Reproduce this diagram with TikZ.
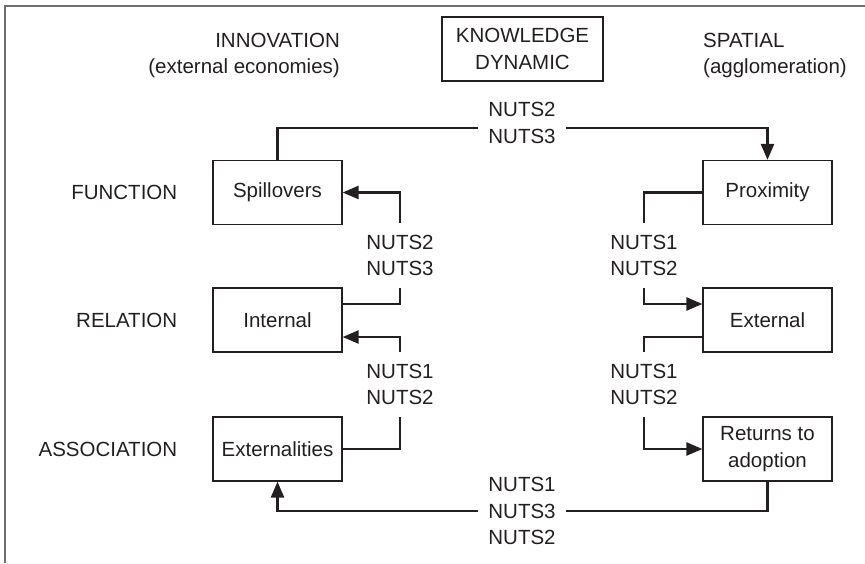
\documentclass[tikz,border=0pt]{standalone}
\usepackage{fontspec}
\setmainfont{Liberation Sans}
\usepackage{tikz}
\usetikzlibrary{positioning, arrows.meta}
\definecolor{ink}{HTML}{231F20}
\definecolor{framegray}{HTML}{6D6E70}

\begin{document}
\begin{tikzpicture}[x=1pt, y=-1pt,
    every node/.style={font=\fontsize{20.5}{26.5}\selectfont, text=ink},
    box/.style={draw=ink, line width=1.2pt, minimum width=129pt, minimum height=64pt, align=center, inner sep=0pt},
    nuts/.style={align=center, inner xsep=10pt, inner ysep=12pt},
    heading/.style={inner sep=0pt},
    link/.style={draw=ink, line width=2.4pt},
    arrow/.style={link, -{Triangle[length=16pt, width=13pt]}}]
    \useasboundingbox (0,0) rectangle (865,563);

    % Frame
    \draw[framegray, line width=1.8pt] (5,563) -- (5,6) -- (865,6);

    % Headings
    \node (knowledge) at (522.5, 49) [box, minimum width=161pt] {KNOWLEDGE\\DYNAMIC};
    \node (innovation) at (340, 32.7) [heading, anchor=north east, align=right] {INNOVATION\\(external economies)};
    \node (spatial) at (703, 32.7) [heading, anchor=north west, align=left] {SPATIAL\\(agglomeration)};

    % Innovation side
    \node (spill) at (277.5, 192.5) [box] {Spillovers};
    \node (internal) at (277.5, 320) [box] {Internal};
    \node (extern) at (277.5, 449) [box] {Externalities};
    \node (function) [heading, left=35pt of spill] {FUNCTION};
    \node (relation) [heading, left=35pt of internal] {RELATION};
    \node (association) [heading, left=35pt of extern] {ASSOCIATION};

    % Spatial side
    \node (prox) at (767.5, 192.5) [box] {Proximity};
    \node (external) at (767.5, 320) [box] {External};
    \node (returns) at (767.5, 449) [box] {Returns to\\adoption};

    % NUTS levels
    \node (toplvl) at (522, 123) [nuts] {NUTS2\\NUTS3};
    \node (leftup) at (400, 255.5) [nuts] {NUTS2\\NUTS3};
    \node (leftdown) at (400, 384.5) [nuts] {NUTS1\\NUTS2};
    \node (rightup) at (644, 255.5) [nuts] {NUTS1\\NUTS2};
    \node (rightdown) at (644, 384.5) [nuts] {NUTS1\\NUTS2};
    \node (botlvl) at (522, 511) [nuts] {NUTS1\\NUTS3\\NUTS2};

    % Connectors
    \draw[link] (spill.north) |- ([yshift=-5pt]toplvl.west);
    \draw[arrow] ([yshift=-5pt]toplvl.east) -| (prox.north);
    \draw[arrow] (leftup.north) |- (spill.east);
    \draw[link] ([yshift=16pt]internal.east) -| (leftup.south);
    \draw[arrow] (leftdown.north) |- ([yshift=-17pt]internal.east);
    \draw[link] (extern.east) -| (leftdown.south);
    \draw[link] (prox.west) -| (rightup.north);
    \draw[arrow] (rightup.south) |- ([yshift=16pt]external.west);
    \draw[link] ([yshift=-17pt]external.west) -| (rightdown.north);
    \draw[arrow] (rightdown.south) |- (returns.west);
    \draw[link] (returns.south) |- (botlvl.east);
    \draw[arrow] (botlvl.west) -| (extern.south);
\end{tikzpicture}
\end{document}
